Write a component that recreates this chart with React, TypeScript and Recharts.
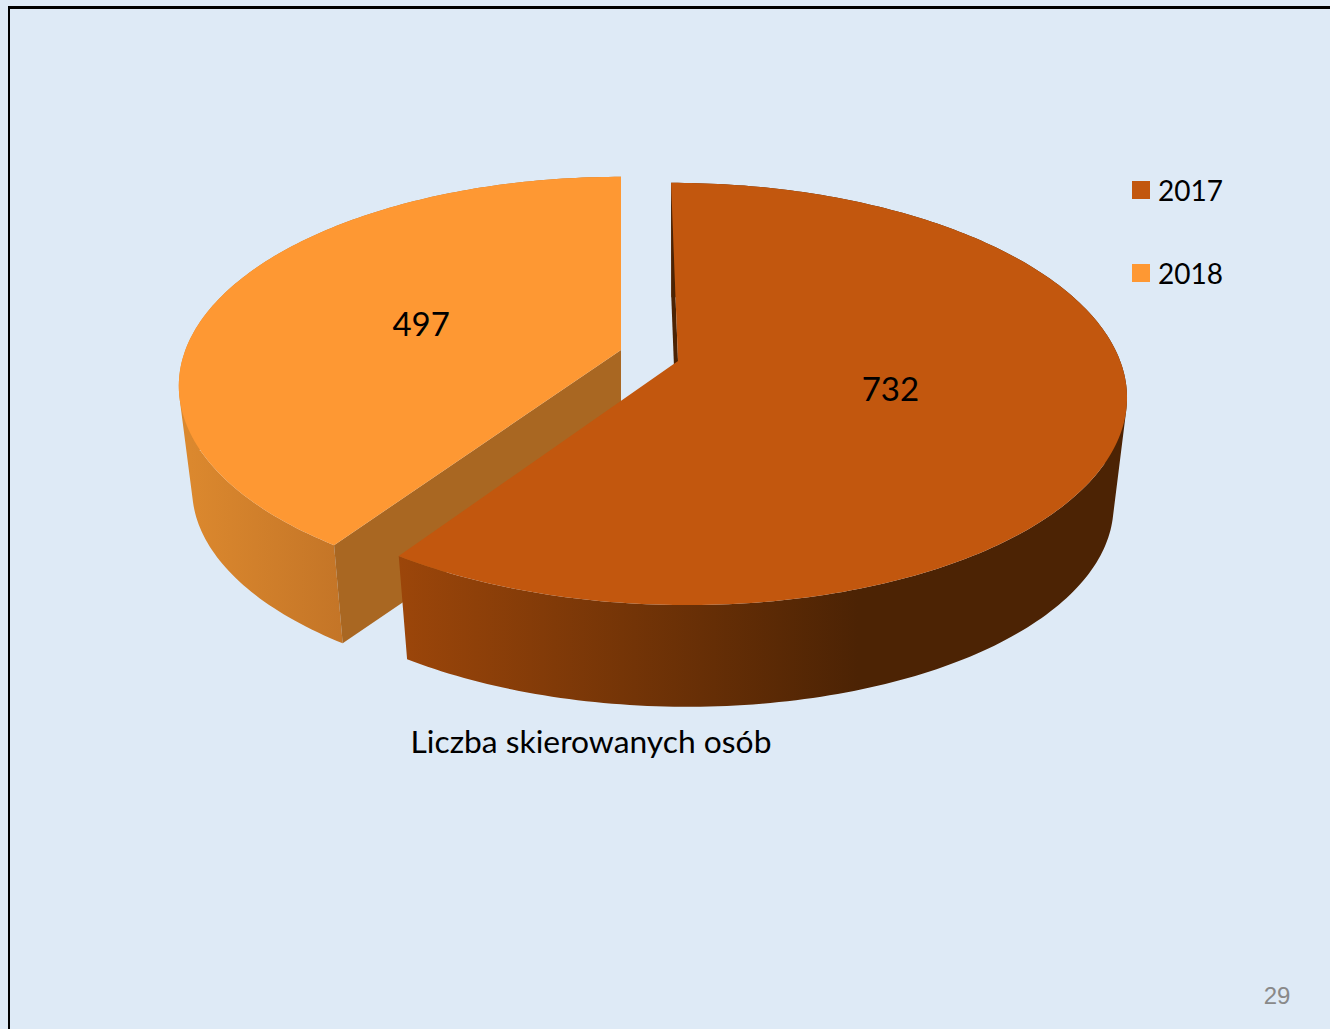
import React from 'react';
import { PieChart, Pie, Cell, Legend } from 'recharts';

// drawn back to front, the legend sorts them again by name
const years = ['2018', '2017'];
const counts = [497, 732];
const colors = ['#FE9833', '#C2570E'];
const axisTitle = 'Liczba skierowanych osób';
const pageNumber = '29';

const data = years.map((name, i) => ({ name, value: counts[i] }));

const total = counts[0] + counts[1];
const START_ANGLE = 90 - (360 * counts[1]) / total;

const CENTER_X = 650;
const CENTER_Y = 355;
const RADIUS = 440;
const BOTTOM_SCALE = 0.97;
const FONT = 'Lato, sans-serif';

// exploded position, wall height and the fake 3d view of each slice
const views: Record<string, any> = {
  '2017': { dx: 28, dy: 6, depth: 109, tilt: 206, persp: 0.156, skew: 8, stretch: 1.005, labelDx: -5, labelDy: -4 },
  '2018': { dx: -29, dy: -5, depth: 104, tilt: 203, persp: 0.172, skew: 0, stretch: 0.99, labelDx: 3, labelDy: 2 },
};

const walls: Record<string, { outer: string; side: string }> = {
  '2017': { outer: 'url(#outer2017)', side: '#4C2304' },
  '2018': { outer: 'url(#outer2018)', side: '#A96722' },
};

type Pt = { x: number; y: number };

function project(name: string, angle: number, frac: number, r: number): Pt {
  const view = views[name];
  const rad = (angle * Math.PI) / 180;
  const u = Math.cos(rad);
  const v = -Math.sin(rad);
  const w = 1 - view.persp * frac * v;
  return {
    x: (frac * (r * view.stretch * u + view.skew * v)) / w,
    y: (frac * view.tilt * v) / w,
  };
}

function arcPoints(name: string, start: number, end: number, r: number) {
  const steps = Math.max(2, Math.ceil(Math.abs(end - start)));
  const pts: Pt[] = [];
  for (let i = 0; i <= steps; i++) {
    pts.push(project(name, start + ((end - start) * i) / steps, 1, r));
  }
  return pts;
}

const toPath = (pts: Pt[]) =>
  'M' + pts.map((p) => `${p.x.toFixed(2)},${p.y.toFixed(2)}`).join('L') + 'Z';

// one quad per arc step, all wound the same way so the fill has no holes
function wallPath(top: Pt[], bottom: Pt[]) {
  let d = '';
  for (let i = 0; i < top.length - 1; i++) {
    const quad = [top[i], top[i + 1], bottom[i + 1], bottom[i]];
    let area = 0;
    quad.forEach((p, j) => {
      const q = quad[(j + 1) % 4];
      area += p.x * q.y - q.x * p.y;
    });
    d += toPath(area < 0 ? quad.reverse() : quad);
  }
  return d;
}

function Slice3D(props: any) {
  const { cx, cy, outerRadius, startAngle, endAngle, fill, name } = props;
  const { dx, dy, depth } = views[name];
  const lower = (p: Pt) => ({
    x: p.x * BOTTOM_SCALE,
    y: p.y * BOTTOM_SCALE + depth,
  });
  const rim = arcPoints(name, startAngle, endAngle, outerRadius);
  const first = rim[0];
  const apex = { x: 0, y: 0 };

  return (
    <g transform={`translate(${cx + dx},${cy + dy})`}>
      <path d={wallPath(rim, rim.map(lower))} fill={walls[name].outer} />
      <path d={toPath([apex, first, lower(first), lower(apex)])} fill={walls[name].side} />
      <path d={toPath([apex, ...rim])} fill={fill} />
    </g>
  );
}

function sliceLabel(props: any) {
  const { cx, cy, midAngle, outerRadius, name, value } = props;
  const { dx, dy, labelDx, labelDy } = views[name];
  const p = project(name, midAngle, 0.5, outerRadius);
  return (
    <text
      x={cx + dx + p.x + labelDx}
      y={cy + dy + p.y + labelDy}
      textAnchor="middle"
      dominantBaseline="central"
      fontFamily={FONT}
      fontSize={33}
      fill="#000"
    >
      {value}
    </text>
  );
}

function YearLegend({ payload }: any) {
  return (
    <div>
      {(payload || []).map((item: any) => (
        <div
          key={item.value}
          style={{ display: 'flex', alignItems: 'center', height: 83, fontFamily: FONT, fontSize: 28, color: '#000' }}
        >
          <span style={{ width: 18, height: 18, background: item.color, marginRight: 8 }} />
          {item.value}
        </div>
      ))}
    </div>
  );
}

export default function App() {
  return (
    <div style={{ position: 'absolute', left: 0, top: 0, width: 1330, height: 1029, background: '#DEEAF6', overflow: 'hidden' }}>
      <div style={{ position: 'absolute', left: 8, top: 6, right: 0, bottom: 0, borderLeft: '2px solid #000', borderTop: '3px solid #000' }} />
      <PieChart width={1330} height={1029} margin={{ top: 0, right: 0, bottom: 0, left: 0 }}>
        <defs>
          <linearGradient id="outer2017" gradientUnits="userSpaceOnUse" x1={-280} y1={0} x2={180} y2={0}>
            <stop offset="0" stopColor="#9C460A" />
            <stop offset="1" stopColor="#4C2304" />
          </linearGradient>
          <linearGradient id="outer2018" gradientUnits="userSpaceOnUse" x1={-430} y1={0} x2={-280} y2={0}>
            <stop offset="0" stopColor="#DB882E" />
            <stop offset="1" stopColor="#C47527" />
          </linearGradient>
        </defs>
        <Pie
          data={data}
          dataKey="value"
          nameKey="name"
          cx={CENTER_X}
          cy={CENTER_Y}
          innerRadius={0}
          outerRadius={RADIUS}
          startAngle={START_ANGLE}
          endAngle={START_ANGLE - 360}
          stroke="none"
          shape={Slice3D}
          label={sliceLabel}
          labelLine={false}
          isAnimationActive={false}
        >
          {years.map((year, i) => (
            <Cell key={year} fill={colors[i]} />
          ))}
        </Pie>
        <Legend
          layout="vertical"
          align="right"
          verticalAlign="top"
          content={<YearLegend />}
          wrapperStyle={{ position: 'absolute', left: 1132, top: 148, width: 120 }}
        />
        <text x={591} y={741} textAnchor="middle" dominantBaseline="central" fontFamily={FONT} fontSize={31.8} fill="#000">
          {axisTitle}
        </text>
        <text x={1277} y={995} textAnchor="middle" dominantBaseline="central" fontFamily="'Liberation Sans', Arial, sans-serif" fontSize={24} fill="#898989">
          {pageNumber}
        </text>
      </PieChart>
    </div>
  );
}
